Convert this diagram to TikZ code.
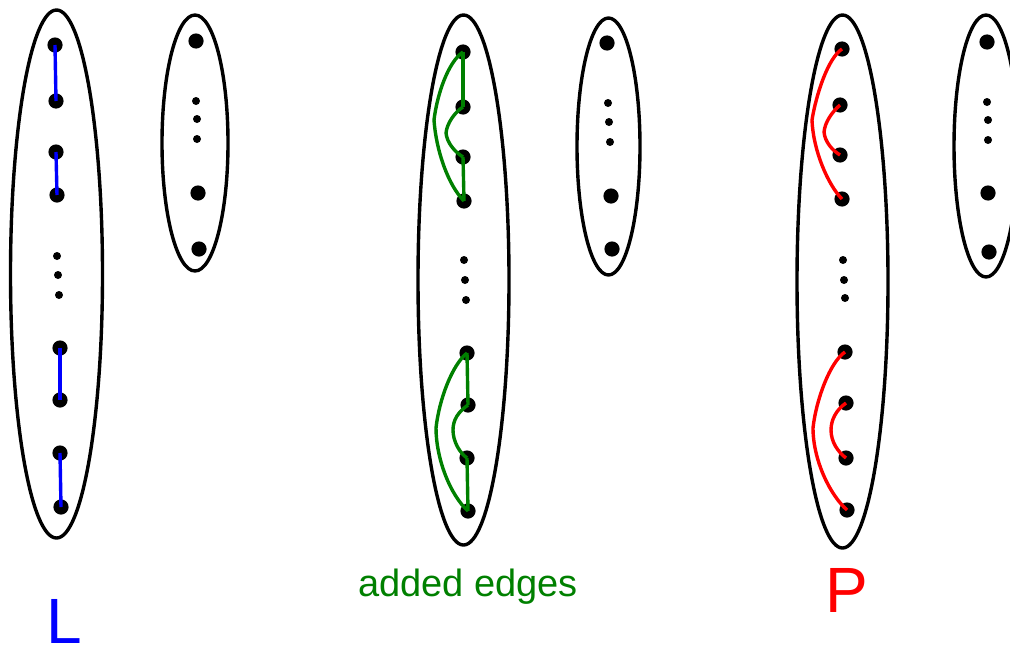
\documentclass[tikz,border=0pt]{standalone}
\usepackage{fontspec}
\setmainfont{Liberation Sans}
\definecolor{lblue}{RGB}{0,0,255}
\definecolor{lgreen}{RGB}{0,128,0}
\definecolor{lred}{RGB}{255,0,0}
\begin{document}
\begin{tikzpicture}[x=0.5pt,y=-0.5pt,
  bigdot/.style={circle,fill=black,inner sep=0pt,minimum size=7.6pt},
  smalldot/.style={circle,fill=black,inner sep=0pt,minimum size=4pt},
  group/.style={draw=black,line width=1.7pt},
  ledge/.style={draw=lblue,line width=1.7pt},
  gedge/.style={draw=lgreen,line width=1.7pt},
  redge/.style={draw=lred,line width=1.7pt},
  lab/.style={anchor=base,inner sep=0pt}]
\useasboundingbox (0,0) rectangle (1010,648);

% ellipses
\draw[group] (56.5,274) ellipse[x radius=46, y radius=264];
\draw[group] (195,143) ellipse[x radius=33, y radius=128];
\draw[group] (463.5,280) ellipse[x radius=45.5, y radius=265];
\draw[group] (608.5,146.5) ellipse[x radius=31.5, y radius=128.5];
\draw[group] (842.5,281.5) ellipse[x radius=45.5, y radius=266.5];
\draw[group] (986,146) ellipse[x radius=32, y radius=131];

% group 1 (L)
\node[bigdot] (a1) at (55,45) {};
\node[bigdot] (a2) at (56,101) {};
\node[bigdot] (a3) at (56,152) {};
\node[bigdot] (a4) at (57,195) {};
\node[smalldot] (as1) at (57,256) {};
\node[smalldot] (as2) at (58,275) {};
\node[smalldot] (as3) at (59,295) {};
\node[bigdot] (a5) at (60,348) {};
\node[bigdot] (a6) at (60,400) {};
\node[bigdot] (a7) at (60,453) {};
\node[bigdot] (a8) at (61,507) {};
\draw[ledge] (a1.center) -- (a2.center);
\draw[ledge] (a3.center) -- (a4.center);
\draw[ledge] (a5.center) -- (a6.center);
\draw[ledge] (a7.center) -- (a8.center);

% group 2
\node[bigdot] (b1) at (196,41) {};
\node[smalldot] (bs1) at (196,101) {};
\node[smalldot] (bs2) at (197,119) {};
\node[smalldot] (bs3) at (197,139) {};
\node[bigdot] (b2) at (198,193) {};
\node[bigdot] (b3) at (199,249) {};

% group 3 (added edges)
\node[bigdot] (c1) at (463,52) {};
\node[bigdot] (c2) at (463,107) {};
\node[bigdot] (c3) at (463,157) {};
\node[bigdot] (c4) at (464,201) {};
\node[smalldot] (cs1) at (464,260) {};
\node[smalldot] (cs2) at (465,280) {};
\node[smalldot] (cs3) at (466,300) {};
\node[bigdot] (c5) at (467,353) {};
\node[bigdot] (c6) at (468,405) {};
\node[bigdot] (c7) at (467,458) {};
\node[bigdot] (c8) at (468,511) {};
\draw[gedge] (c1.center) -- (c2.center);
\draw[gedge] (c3.center) -- (c4.center);
\draw[gedge] (c5.center) -- (c6.center);
\draw[gedge] (c7.center) -- (c8.center);
\draw[gedge] (c1.center) .. controls (448,62) and (437,95) .. (434,120)
                          .. controls (436,150) and (448,185) .. (c4.center);
\draw[gedge] (c2.center) .. controls (455,112) and (447,123) .. (446,133)
                          .. controls (447,143) and (455,152) .. (c3.center);
\draw[gedge] (c5.center) .. controls (452,365) and (439,400) .. (436,428)
                          .. controls (436,458) and (450,495) .. (c8.center);
\draw[gedge] (c6.center) .. controls (458,412) and (453,420) .. (453,430)
                          .. controls (453,442) and (460,453) .. (c7.center);

% group 4
\node[bigdot] (d1) at (607,43) {};
\node[smalldot] (ds1) at (608,103) {};
\node[smalldot] (ds2) at (609,122) {};
\node[smalldot] (ds3) at (610,142) {};
\node[bigdot] (d2) at (611,196) {};
\node[bigdot] (d3) at (612,249) {};

% group 5 (P)
\node[bigdot] (e1) at (842,49) {};
\node[bigdot] (e2) at (840,105) {};
\node[bigdot] (e3) at (840,155) {};
\node[bigdot] (e4) at (842,199) {};
\node[smalldot] (es1) at (843,260) {};
\node[smalldot] (es2) at (844,280) {};
\node[smalldot] (es3) at (845,298) {};
\node[bigdot] (e5) at (845,352) {};
\node[bigdot] (e6) at (846,403) {};
\node[bigdot] (e7) at (846,458) {};
\node[bigdot] (e8) at (847,510) {};
\draw[redge] (e1.center) .. controls (828,58) and (816,95) .. (812,120)
                          .. controls (813,150) and (828,185) .. (e4.center);
\draw[redge] (e2.center) .. controls (832,112) and (825,122) .. (824,132)
                          .. controls (825,142) and (832,150) .. (e3.center);
\draw[redge] (e5.center) .. controls (830,362) and (816,400) .. (813,428)
                          .. controls (813,460) and (830,495) .. (e8.center);
\draw[redge] (e6.center) .. controls (836,410) and (831,420) .. (831,430)
                          .. controls (831,442) and (838,452) .. (e7.center);

% group 6
\node[bigdot] (f1) at (987,42) {};
\node[smalldot] (fs1) at (987,102) {};
\node[smalldot] (fs2) at (988,120) {};
\node[smalldot] (fs3) at (988,140) {};
\node[bigdot] (f2) at (988,193) {};
\node[bigdot] (f3) at (989,252) {};

% labels
\node[lab,text=lblue,font=\fontsize{32pt}{36pt}\selectfont] (labL) at (64,643) {L};
\node[lab,text=lgreen,font=\fontsize{19pt}{22pt}\selectfont] (labG) at (468,596) {added edges};
\node[lab,text=lred,font=\fontsize{32pt}{36pt}\selectfont] (labP) at (847,612) {P};
\end{tikzpicture}
\end{document}
